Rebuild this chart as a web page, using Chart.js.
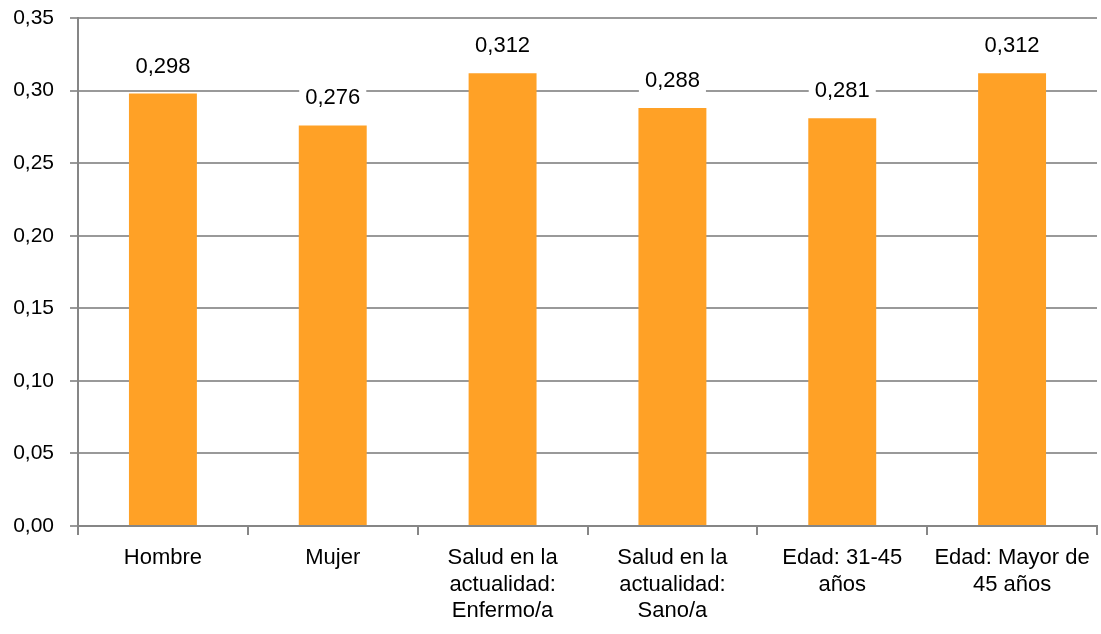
<!DOCTYPE html>
<html>
<head>
<meta charset="utf-8">
<script src="https://cdn.jsdelivr.net/npm/chart.js@4/dist/chart.umd.min.js"></script>
<style>
  html, body { margin: 0; padding: 0; background: #fff; }
  #wrap { width: 1101px; height: 634px; }
</style>
</head>
<body>
<div id="wrap"><canvas id="barChart"></canvas></div>
<script>
// categories and values
const categories = [
  ["Hombre"],
  ["Mujer"],
  ["Salud en la", "actualidad:", "Enfermo/a"],
  ["Salud en la", "actualidad:", "Sano/a"],
  ["Edad: 31-45", "años"],
  ["Edad: Mayor de", "45 años"],
];
const values = [0.298, 0.276, 0.312, 0.288, 0.281, 0.312];
const yTicks = [0, 0.05, 0.1, 0.15, 0.2, 0.25, 0.3, 0.35];

const fmt = (v, d) => v.toFixed(d).replace(".", ",");

// value labels on top of bars, with white box so gridlines are cut
const valueLabels = {
  id: "valueLabels",
  afterDatasetsDraw(chart) {
    const ctx = chart.ctx;
    const meta = chart.getDatasetMeta(0);
    ctx.save();
    ctx.font = "22px 'Liberation Sans', Arial, sans-serif";
    ctx.textAlign = "center";
    ctx.textBaseline = "middle";
    meta.data.forEach((bar, i) => {
      const txt = fmt(values[i], 3);
      const w = ctx.measureText(txt).width;
      const y = bar.y - 27;
      ctx.fillStyle = "#fff";
      ctx.fillRect(bar.x - w / 2 - 6, y - 13, w + 12, 26);
      ctx.fillStyle = "#000";
      ctx.fillText(txt, bar.x, y);
    });
    ctx.restore();
  },
};

new Chart(document.getElementById("barChart"), {
  type: "bar",
  data: {
    labels: categories,
    datasets: [
      {
        data: values,
        backgroundColor: "#FFA126",
        barPercentage: 0.8,
        categoryPercentage: 0.5,
      },
    ],
  },
  options: {
    responsive: true,
    maintainAspectRatio: false,
    animation: false,
    layout: { padding: { top: 18, right: 4, left: 0, bottom: 0 } },
    plugins: {
      legend: { display: false },
      tooltip: { enabled: false },
    },
    scales: {
      x: {
        grid: {
          offset: true,
          drawOnChartArea: false,
          color: "#868686",
          tickLength: 9,
          lineWidth: 2,
        },
        border: { color: "#868686", width: 2 },
        ticks: {
          color: "#000",
          font: { family: "'Liberation Sans', Arial, sans-serif", size: 22 },
          padding: 10,
          maxRotation: 0,
          autoSkip: false,
        },
        afterFit(scale) {
          scale.height = 108;
          scale.paddingLeft = 0;
          scale.paddingRight = 0;
        },
      },
      y: {
        min: 0,
        max: 0.35,
        afterBuildTicks(scale) {
          scale.ticks = yTicks.map((v) => ({ value: v }));
        },
        grid: {
          color: "#999999",
          tickLength: 8,
          lineWidth: 2,
        },
        border: { color: "#868686", width: 2 },
        ticks: {
          color: "#000",
          font: { family: "'Liberation Sans', Arial, sans-serif", size: 21 },
          padding: 16,
          callback: (v) => fmt(v, 2),
        },
        afterFit(scale) {
          scale.width = 78;
          scale.paddingTop = 0;
          scale.paddingBottom = 0;
        },
      },
    },
  },
  plugins: [valueLabels],
});
</script>
</body>
</html>
